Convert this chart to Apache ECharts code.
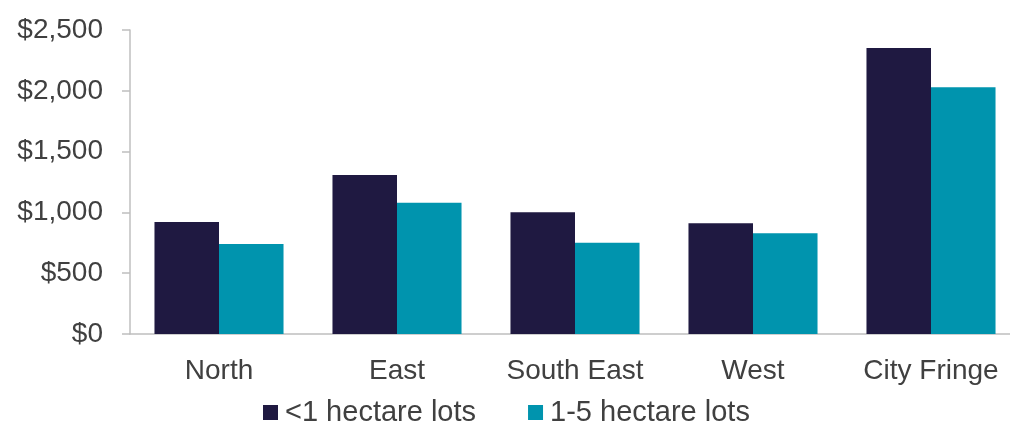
<!DOCTYPE html>
<html>
<head>
<meta charset="utf-8">
<script src="https://cdn.jsdelivr.net/npm/echarts@6/dist/echarts.min.js"></script>
<style>
  html, body { margin: 0; padding: 0; background: #fff; }
  #container { width: 1010px; height: 423px; }
</style>
</head>
<body>
<div id="container"></div>
<script>
// regions and average values
const categories = ["North", "East", "South East", "West", "City Fringe"];
const smallLots = [921, 1308, 1001, 910, 2352];
const mediumLots = [740, 1080, 751, 828, 2029];
const seriesNames = ["<1 hectare lots", "1-5 hectare lots"];

let myChart = echarts.init(document.getElementById("container"));
const textColor = "#404040";
const fontFamily = "Liberation Sans, Arial, sans-serif";

let option = {
    animation: false,
    textStyle: { fontFamily: fontFamily },
    legend: {
        top: 393,
        left: 258,
        itemWidth: 15,
        itemHeight: 15,
        itemGap: 52,
        icon: "rect",
        textStyle: { fontSize: 29, color: textColor, fontFamily: fontFamily, padding: [0, 0, 0, 2] },
        data: seriesNames
    },
    grid: { left: 130, top: 30, right: -10, bottom: 89, outerBoundsMode: "none" },
    xAxis: {
        type: "category",
        data: categories,
        axisLine: { lineStyle: { color: "#bfbfbf", width: 1.5 } },
        axisTick: { length: 8, lineStyle: { color: "#bfbfbf", width: 1.5 } },
        axisLabel: { fontSize: 28, color: textColor, margin: 23, interval: 0 }
    },
    yAxis: {
        type: "value",
        min: 0,
        max: 2500,
        interval: 500,
        axisLine: { show: true, lineStyle: { color: "#bfbfbf", width: 1.5 } },
        axisTick: { show: true, length: 8, lineStyle: { color: "#bfbfbf", width: 1.5 } },
        splitLine: { show: false },
        axisLabel: {
            fontSize: 28,
            color: textColor,
            margin: 27,
            formatter: v => "$" + v.toLocaleString("en-US")
        }
    },
    series: [
        {
            name: seriesNames[0],
            type: "bar",
            data: smallLots,
            itemStyle: { color: "#1f1941" },
            barGap: "0%",
            barCategoryGap: "27.5%"
        },
        {
            name: seriesNames[1],
            type: "bar",
            data: mediumLots,
            itemStyle: { color: "#0094ae" },
            barGap: "0%",
            barCategoryGap: "27.5%"
        }
    ]
};
myChart.setOption(option);
</script>
</body>
</html>
